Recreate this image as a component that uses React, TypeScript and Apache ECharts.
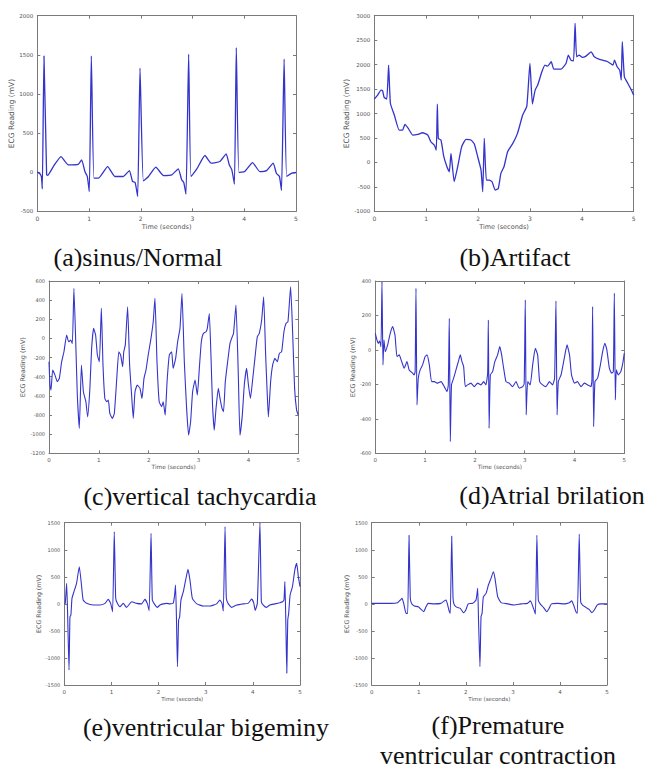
import React, { useEffect, useRef } from 'react';
import * as echarts from 'echarts';

// ---- data: [time (s), ECG reading (mV)] ----
const sinusNormal: [number, number][] = [
  [0, 0], [0.05, -20], [0.08, -60], [0.097, -213], [0.129, 1486], [0.18, -34], [0.2, -40], [0.31, 72], [0.457, 200],
  [0.6, 94], [0.79, 100], [0.857, 158], [0.92, 8], [0.966, -55], [1.005, -247], [1.044, 1486], [1.095, -77], [1.18, -77],
  [1.36, 72], [1.5, -55], [1.66, -55], [1.78, 21], [1.84, -119], [1.89, -130], [1.94, -311], [1.985, 1329], [2.05, -111],
  [2.15, -55], [2.29, 64], [2.44, -43], [2.6, -34], [2.725, 43], [2.79, -98], [2.83, -130], [2.874, -281], [2.925, 1508],
  [2.97, -55], [3.08, 38], [3.24, 213], [3.36, 115], [3.53, 136], [3.65, 234], [3.71, 94], [3.76, 30], [3.81, -153],
  [3.846, 1593], [3.898, -4], [4.01, 8], [4.16, 123], [4.3, 8], [4.43, 20], [4.56, 115], [4.62, -13], [4.68, -55],
  [4.72, -234], [4.77, 1444], [4.82, -55], [4.92, -13], [5.0, -4],
];

const artifact: [number, number][] = [
  [0, 1295], [0.064, 1376], [0.13, 1479], [0.16, 1465], [0.19, 1329], [0.24, 1295], [0.276, 1990], [0.31, 1210],
  [0.386, 968], [0.48, 661], [0.546, 661], [0.59, 777], [0.655, 695], [0.74, 559], [0.835, 572], [0.93, 606],
  [1.03, 559], [1.09, 422], [1.157, 354], [1.195, 252], [1.215, 1193], [1.234, 491], [1.285, 457], [1.34, 116],
  [1.4, -89], [1.446, -191], [1.478, 184], [1.54, -395], [1.607, -89], [1.684, 320], [1.767, 470], [1.864, 457],
  [1.928, 375], [1.993, 116], [2.057, -157], [2.09, -600], [2.12, 491], [2.16, -361], [2.217, -361], [2.27, -395],
  [2.33, -566], [2.39, -532], [2.44, -225], [2.5, -89], [2.57, 218], [2.67, 388], [2.76, 593], [2.86, 968],
  [2.94, 1152], [3.0, 2024], [3.047, 1193], [3.1, 1479], [3.15, 1581], [3.23, 1853], [3.29, 1990], [3.34, 1969],
  [3.41, 2058], [3.46, 1908], [3.6, 1908], [3.695, 2024], [3.74, 2194], [3.79, 2092], [3.84, 2078], [3.87, 2842],
  [3.9, 2160], [3.95, 2194], [4.01, 2146], [4.08, 2174], [4.18, 2262], [4.24, 2160], [4.34, 2106], [4.5, 2058],
  [4.6, 1990], [4.63, 2092], [4.68, 1956], [4.73, 1888], [4.76, 1683], [4.78, 2467], [4.82, 1751], [4.88, 1629],
  [4.95, 1492], [5.0, 1376],
];

const ventricularTachy: [number, number][] = [
  [0, -243], [0.02, -487], [0.04, -540], [0.074, -331], [0.12, -383], [0.167, -452], [0.207, -418], [0.254, -243],
  [0.3, -139], [0.354, 36], [0.394, -35], [0.435, -17], [0.468, -52], [0.5, 522], [0.54, -104], [0.568, -592],
  [0.608, -940], [0.65, -278], [0.69, -557], [0.74, -662], [0.775, -819], [0.82, -522], [0.855, -104], [0.895, 105],
  [0.935, 36], [0.97, -173], [1.01, -243], [1.05, 314], [1.083, -278], [1.12, -627], [1.157, -662], [1.19, -644],
  [1.22, -784], [1.27, -836], [1.31, -784], [1.357, -435], [1.4, -139], [1.437, -173], [1.477, -296], [1.5, -139],
  [1.53, -70], [1.577, 331], [1.617, -278], [1.657, -592], [1.69, -836], [1.725, -557], [1.77, -487], [1.825, -522],
  [1.865, -627], [1.905, -418], [1.945, -331], [1.99, -173], [2.04, -17], [2.09, 175], [2.125, 418], [2.166, -243],
  [2.21, -662], [2.26, -714], [2.29, -662], [2.33, -801], [2.37, -435], [2.413, -173], [2.46, -139], [2.49, -313],
  [2.54, -208], [2.58, -35], [2.627, 105], [2.667, 470], [2.714, -243], [2.76, -731], [2.8, -1010], [2.84, -871],
  [2.88, -557], [2.93, -435], [2.975, -592], [3.015, -313], [3.055, -35], [3.094, 52], [3.15, 70], [3.175, 105],
  [3.215, 261], [3.25, -208], [3.28, -697], [3.315, -958], [3.35, -731], [3.396, -522], [3.43, -627], [3.47, -731],
  [3.5, -766], [3.536, -452], [3.583, -243], [3.63, -52], [3.663, 1], [3.7, 52], [3.75, 348], [3.797, -383],
  [3.83, -1010], [3.877, -801], [3.917, -487], [3.964, -313], [4.0, -487], [4.04, -627], [4.08, -452], [4.13, -208],
  [4.178, 18], [4.218, 52], [4.265, 192], [4.305, 436], [4.345, -173], [4.378, -592], [4.4, -819], [4.445, -452],
  [4.485, -278], [4.53, -208], [4.58, -243], [4.62, -156], [4.666, -139], [4.712, 70], [4.753, 157], [4.793, 175],
  [4.846, 540], [4.886, 70], [4.926, -522], [4.966, -749], [5.0, -801],
];

const atrialFib: [number, number][] = [
  [0, 96], [0.033, 58], [0.06, 38], [0.087, 52], [0.114, 19], [0.134, 396], [0.154, -87], [0.174, 58], [0.2, -10],
  [0.248, 29], [0.3, 96], [0.348, 135], [0.395, 87], [0.435, -39], [0.48, -29], [0.53, -68], [0.58, -106],
  [0.636, -68], [0.68, -116], [0.75, -135], [0.78, -145], [0.8, -126], [0.817, 357], [0.837, -319], [0.863, -164],
  [0.9, -116], [0.95, -87], [1.0, -39], [1.04, -29], [1.085, -87], [1.13, -184], [1.185, -184], [1.25, -193],
  [1.32, -184], [1.385, -213], [1.44, -242], [1.466, -203], [1.486, 183], [1.506, -532], [1.53, -203], [1.573, -164],
  [1.62, -116], [1.667, -68], [1.707, -29], [1.74, -68], [1.774, -97], [1.807, -213], [1.854, -203], [1.92, -193],
  [1.988, -213], [2.055, -193], [2.12, -203], [2.176, -184], [2.22, -203], [2.256, -135], [2.27, 174], [2.285, -455],
  [2.31, -145], [2.356, -126], [2.4, -68], [2.456, -29], [2.5, 19], [2.537, -29], [2.577, -106], [2.624, -184],
  [2.69, -193], [2.757, -213], [2.825, -184], [2.89, -222], [2.96, -213], [2.99, -193], [3.012, 290], [3.03, -377],
  [3.06, -184], [3.11, -203], [3.16, -87], [3.213, 9], [3.26, -29], [3.3, -184], [3.36, -203], [3.427, -213],
  [3.494, -184], [3.56, -203], [3.6, -164], [3.628, 284], [3.65, -377], [3.675, -184], [3.73, -145], [3.795, -48],
  [3.85, 29], [3.9, -29], [3.94, -145], [4.0, -193], [4.06, -184], [4.13, -213], [4.197, -193], [4.264, -203],
  [4.33, -213], [4.35, -174], [4.364, 251], [4.384, -445], [4.41, -184], [4.464, -164], [4.52, -87], [4.565, -10],
  [4.61, 38], [4.65, 0], [4.7, -106], [4.745, -135], [4.78, -126], [4.8, 329], [4.82, -290], [4.84, -116],
  [4.88, -145], [4.93, -126], [4.97, -77], [5.0, -19],
];

const ventricularBigeminy: [number, number][] = [
  [0, 0], [0.02, 9], [0.05, 379], [0.07, -176], [0.1, -1223], [0.12, -237], [0.14, -207], [0.163, 101], [0.205, 225],
  [0.26, 379], [0.318, 687], [0.368, 317], [0.4, 71], [0.474, 9], [0.615, -22], [0.757, -22], [0.863, 9], [0.933, 83],
  [0.983, 9], [1.025, -145], [1.06, 1334], [1.09, 102], [1.125, 9], [1.18, -53], [1.25, 9], [1.32, -65], [1.43, 40],
  [1.535, 9], [1.64, 0], [1.71, 83], [1.76, 9], [1.8, -127], [1.84, 1303], [1.867, 71], [1.91, 0], [1.973, -65],
  [2.03, -22], [2.1, 0], [2.17, 9], [2.24, 0], [2.31, 9], [2.34, 163], [2.36, 348], [2.38, -300], [2.4, -1161],
  [2.425, -300], [2.447, -240], [2.475, 71], [2.525, 225], [2.574, 440], [2.624, 638], [2.666, 440], [2.716, 102],
  [2.81, 0], [2.95, -40], [3.09, -40], [3.23, 0], [3.3, 71], [3.345, 9], [3.373, -133], [3.41, 1426], [3.437, 102],
  [3.48, 0], [3.55, -65], [3.656, -22], [3.8, 0], [3.9, 9], [3.975, 89], [4.017, 22], [4.05, -120], [4.095, 9],
  [4.15, 1500], [4.18, 40], [4.22, -22], [4.29, -65], [4.36, -22], [4.47, 0], [4.57, 22], [4.63, 40], [4.66, 71],
  [4.68, 410], [4.7, -362], [4.72, -1284], [4.74, -300], [4.76, -176], [4.79, 163], [4.84, 317], [4.89, 625],
  [4.93, 748], [4.965, 502], [5.0, 317],
];

const prematureVentricular: [number, number][] = [
  [0, 9], [0.2, 9], [0.41, 9], [0.55, 22], [0.61, 71], [0.645, 102], [0.68, 9], [0.73, -176], [0.765, -176],
  [0.793, 1269], [0.82, 102], [0.85, 0], [0.906, -40], [0.99, -53], [1.048, -102], [1.105, -145], [1.154, -53],
  [1.2, 9], [1.33, 0], [1.47, 9], [1.544, 55], [1.58, 71], [1.615, -22], [1.65, -145], [1.67, -176], [1.7, 1251],
  [1.728, 102], [1.756, -22], [1.813, -65], [1.883, -83], [1.95, -164], [2.0, -114], [2.05, 0], [2.146, 9],
  [2.217, 71], [2.252, 286], [2.27, -300], [2.3, -1161], [2.323, -240], [2.345, -176], [2.373, 132], [2.43, 194],
  [2.48, 348], [2.535, 471], [2.585, 594], [2.62, 471], [2.677, 132], [2.748, 22], [2.89, 0], [3.03, -22],
  [3.17, 0], [3.31, 9], [3.37, 55], [3.4, 9], [3.456, -127], [3.48, -189], [3.51, 1269], [3.54, 71], [3.58, 0],
  [3.65, -65], [3.72, -145], [3.77, -83], [3.82, 0], [3.95, 9], [4.09, 0], [4.2, 22], [4.25, 55], [4.29, -22],
  [4.34, -145], [4.37, -176], [4.41, 1288], [4.44, 40], [4.48, -22], [4.55, -65], [4.62, -102], [4.68, -164],
  [4.73, -114], [4.79, -22], [4.87, 0], [5.0, 0],
];

const yRanges: [number, number, number][] = [
  [-500, 2000, 500],
  [-1000, 3000, 500],
  [-1200, 600, 200],
  [-600, 400, 200],
  [-1500, 1500, 500],
  [-1500, 1500, 500],
];
const xRange: [number, number, number] = [0, 5, 1];
const xAxisTitle = 'Time (seconds)';
const yAxisTitle = 'ECG Reading (mV)';
const captionLines: string[][] = [
  ['(a)sinus/Normal'],
  ['(b)Artifact'],
  ['(c)vertical tachycardia'],
  ['(d)Atrial brilation'],
  ['(e)ventricular bigeminy'],
  ['(f)Premature', 'ventricular contraction'],
];
const seriesData = [sinusNormal, artifact, ventricularTachy, atrialFib, ventricularBigeminy, prematureVentricular];

// ---- layout (pixels) ----
const layout = [
  { left: 37.3, top: 15.7, width: 258.7, height: 195.6, tick: 5.5, xName: 6.5, yName: 7.5, yGap: 13, xGap: 12, lw: 1.3, cap: [138, 257] },
  { left: 374.3, top: 15.7, width: 259.4, height: 195.6, tick: 5.5, xName: 6.5, yName: 7.5, yGap: 17, xGap: 12, lw: 1.3, cap: [515, 257] },
  { left: 49, top: 281, width: 249.3, height: 172.3, tick: 5, xName: 5.8, yName: 6.5, yGap: 17, xGap: 10, lw: 1.1, cap: [200, 496] },
  { left: 375.3, top: 281, width: 249, height: 172.3, tick: 5, xName: 5.8, yName: 6.5, yGap: 18, xGap: 10, lw: 1.1, cap: [552, 495] },
  { left: 64.3, top: 522.7, width: 235.7, height: 162.3, tick: 5, xName: 5.5, yName: 6.3, yGap: 17, xGap: 10, lw: 1.1, cap: [206, 727] },
  { left: 371.7, top: 522.7, width: 235.3, height: 162.3, tick: 5, xName: 5.5, yName: 6.3, yGap: 19, xGap: 11, lw: 1.1, cap: [498, 725] },
];

const FRAME = '#7a7a7a';
const LABEL = '#555555';
const LINE = '#3434cc';
const plain = (v: number) => String(v);

export default function App() {
  const ref = useRef<HTMLDivElement>(null);
  useEffect(() => {
    if (!ref.current) return;
    const chart = echarts.init(ref.current, undefined, { renderer: 'svg' });
    const grid: any[] = [];
    const xAxis: any[] = [];
    const yAxis: any[] = [];
    const series: any[] = [];
    const graphic: any[] = [];
    layout.forEach((L, i) => {
      grid.push({ left: L.left, top: L.top, width: L.width, height: L.height, containLabel: false });
      const common = {
        gridIndex: i,
        type: 'value',
        axisLine: { show: true, onZero: false, lineStyle: { color: FRAME, width: 1 } },
        axisTick: { show: true, inside: true, length: 3, lineStyle: { color: FRAME } },
        splitLine: { show: false },
      };
      xAxis.push({
        ...common,
        position: 'bottom',
        min: xRange[0], max: xRange[1], interval: xRange[2],
        axisLabel: { fontSize: L.tick + 0.5, color: LABEL, margin: 4, fontFamily: 'DejaVu Sans', formatter: plain },
        name: xAxisTitle, nameLocation: 'middle', nameGap: L.xGap,
        nameTextStyle: { fontSize: L.xName, color: LABEL, fontFamily: 'DejaVu Sans' },
      });
      xAxis.push({
        ...common,
        position: 'top',
        min: xRange[0], max: xRange[1], interval: xRange[2],
        axisLabel: { show: false },
      });
      const [ymin, ymax, yint] = yRanges[i];
      yAxis.push({
        ...common,
        position: 'left',
        min: ymin, max: ymax, interval: yint,
        axisLabel: { fontSize: L.tick, color: LABEL, margin: 4, fontFamily: 'DejaVu Sans', formatter: plain },
        name: yAxisTitle, nameLocation: 'middle', nameGap: L.yGap,
        nameTextStyle: { fontSize: L.yName, color: LABEL, fontFamily: 'DejaVu Sans' },
      });
      yAxis.push({
        ...common,
        position: 'right',
        min: ymin, max: ymax, interval: yint,
        axisLabel: { show: false },
      });
      series.push({
        type: 'line',
        xAxisIndex: 2 * i,
        yAxisIndex: 2 * i,
        data: seriesData[i],
        showSymbol: false,
        symbol: 'none',
        smooth: 0.15,
        clip: true,
        lineStyle: { color: LINE, width: L.lw },
      });
      const lines = captionLines[i];
      lines.forEach((t, k) => {
        graphic.push({
          type: 'text',
          x: L.cap[0],
          y: L.cap[1] + k * 30,
          style: {
            text: t,
            fontFamily: 'Liberation Serif',
            fontSize: 26,
            fill: '#111111',
            textAlign: 'center',
            textVerticalAlign: 'middle',
          },
        });
      });
    });
    chart.setOption({
      animation: false,
      backgroundColor: '#ffffff',
      grid,
      xAxis,
      yAxis,
      series,
      graphic,
    });
    return () => chart.dispose();
  }, []);
  return (
    <div
      ref={ref}
      style={{ position: 'absolute', left: 0, top: 0, width: 662, height: 769, background: '#fff' }}
    />
  );
}
